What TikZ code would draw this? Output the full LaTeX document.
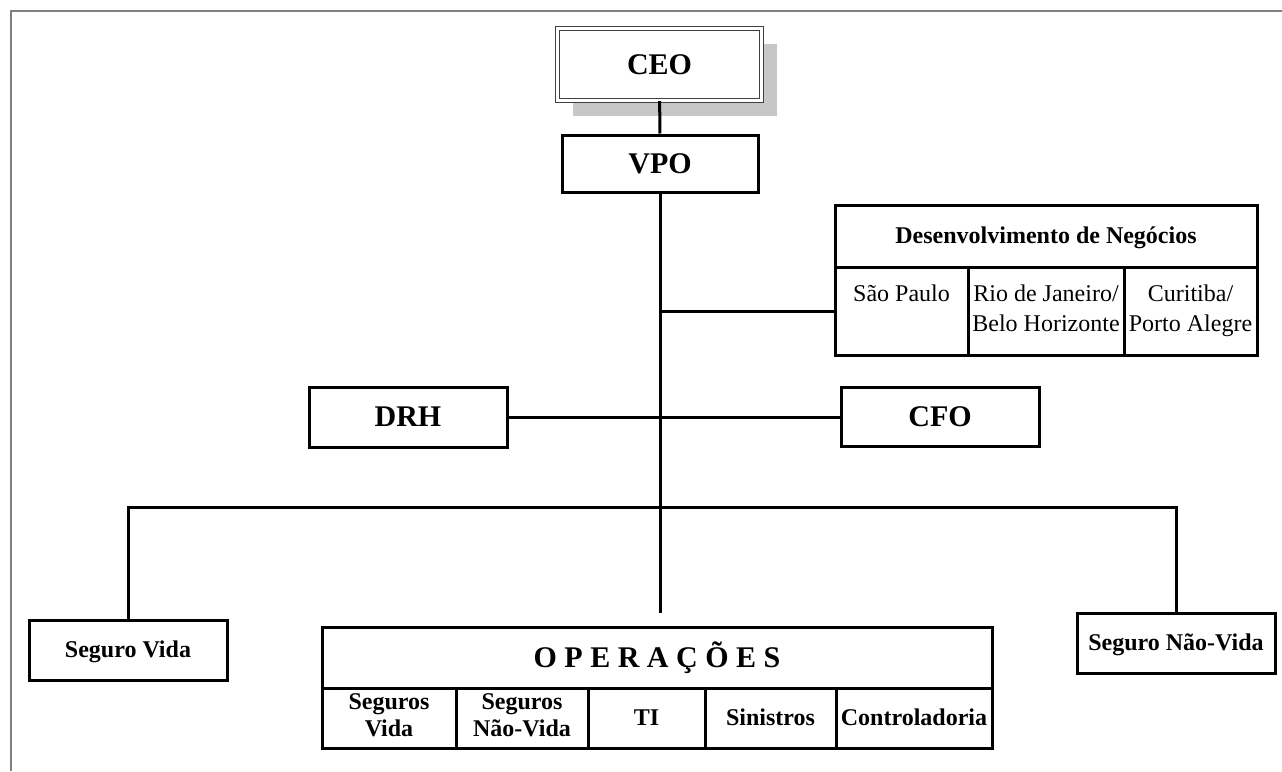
\documentclass[tikz,border=0pt]{standalone}
\usepackage{fontspec}
\setmainfont{Liberation Serif}
\usetikzlibrary{shadows}
% even strut, so caps sit in the middle of a box
\newcommand{\boxstrut}{\rule[-0.24em]{0pt}{1.14em}}

\begin{document}
\begin{tikzpicture}[x=1pt,y=-1pt,
    box/.style={draw,line width=3pt,inner sep=0pt,align=center,
                execute at begin node=\boxstrut,execute at end node=\boxstrut},
    head/.style={box,font=\bfseries\fontsize{30}{34}\selectfont},
    unit/.style={box,font=\bfseries\fontsize{24}{27}\selectfont},
    city/.style={box,font=\fontsize{24}{30}\selectfont},
    link/.style={line width=3pt}]
    \useasboundingbox (0,0) rectangle (1282,771);
    % frame round the chart
    \draw[line width=2pt,black!50] (11,771) -- (11,11) -- (1282,11);

    % top of the chart
    \node[head,minimum width=204,minimum height=72,double,double distance=3pt,line width=1.2pt,draw=black!75,fill=white,
          drop shadow={shadow xshift=15pt,shadow yshift=-15pt,fill=black!22,opacity=1}] (ceo) at (659.5,64.5) {CEO};
    \node[head,minimum width=196,minimum height=57] (vpo) at (660,163.5) {VPO};
    \node[head,minimum width=198,minimum height=60] (drh) at (408,417) {DRH};
    \node[head,minimum width=198,minimum height=59] (cfo) at (940,417) {CFO};

    % business development and its regions
    \node[unit,minimum width=422,minimum height=62] (dn) at (1046,236) {Desenvolvimento de Negócios};
    \node[city,minimum width=133,minimum height=88] (sp) at (901.5,311) {São Paulo\\\phantom{X}};
    \node[city,minimum width=156,minimum height=88] (rj) at (1046,311) {Rio de Janeiro/\\Belo Horizonte};
    \node[city,minimum width=133,minimum height=88] (cp) at (1190.5,311) {Curitiba/\\Porto Alegre};

    % insurance lines
    \node[unit,minimum width=198,minimum height=60] (sv) at (128,650) {Seguro Vida};
    \node[unit,minimum width=198,minimum height=60] (snv) at (1176,643) {Seguro Não-Vida};

    % operations and its areas
    \node[head,minimum width=670,minimum height=61] (ops) at (657,657.5) {O P E R A Ç Õ E S};
    \node[unit,minimum width=134,minimum height=60] (osv) at (389,718) {Seguros\\Vida};
    \node[unit,minimum width=132,minimum height=60] (osnv) at (522,718) {Seguros\\Não-Vida};
    \node[unit,minimum width=117,minimum height=60] (oti) at (646.5,718) {TI};
    \node[unit,minimum width=131,minimum height=60] (osin) at (770.5,718) {Sinistros};
    \node[unit,minimum width=156,minimum height=60] (octl) at (914,718) {Controladoria};

    \coordinate (bus) at (660,507);
    \coordinate (trunk) at (660,613);

    \draw[link] (ceo) -- (vpo);
    \draw[link] (vpo) -- (trunk);
    \draw[link] (vpo.south |- sp.west) -- (sp.west);
    \draw[link] (drh) -- (cfo);
    \draw[link] (sv.north) |- (bus) -| (snv.north);
\end{tikzpicture}
\end{document}
